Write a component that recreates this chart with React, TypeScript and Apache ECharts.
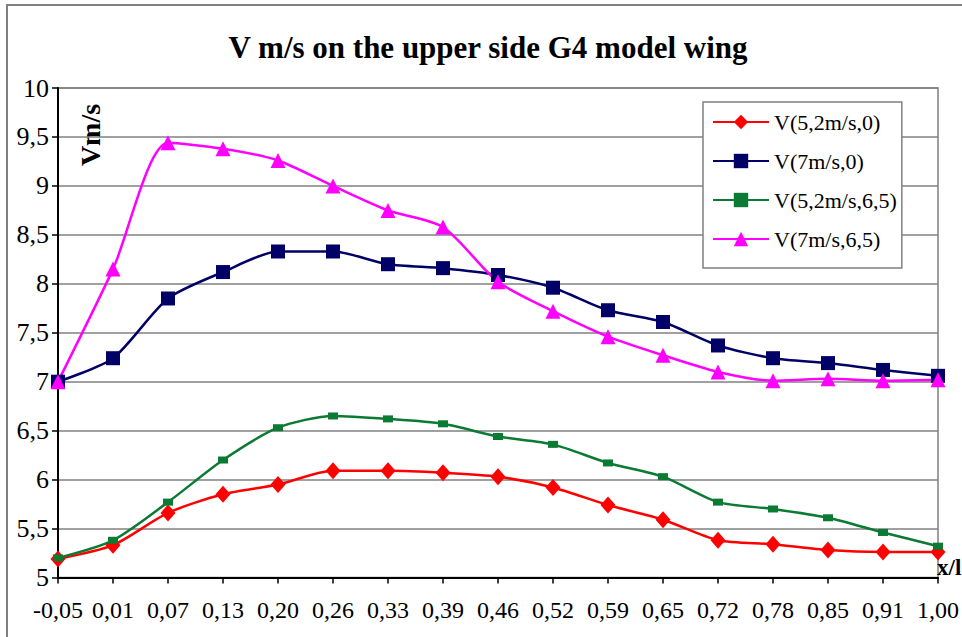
import React, { useEffect, useRef } from "react";
import * as echarts from "echarts";

const categories = ["-0,05", "0,01", "0,07", "0,13", "0,20", "0,26", "0,33", "0,39", "0,46", "0,52", "0,59", "0,65", "0,72", "0,78", "0,85", "0,91", "1,00"];
const v52_0 = [5.19, 5.33, 5.66, 5.85, 5.95, 6.09, 6.09, 6.07, 6.03, 5.92, 5.74, 5.59, 5.38, 5.34, 5.28, 5.26, 5.26];
const v7_0 = [7.0, 7.24, 7.85, 8.12, 8.33, 8.33, 8.2, 8.16, 8.09, 7.96, 7.73, 7.61, 7.37, 7.24, 7.19, 7.12, 7.06];
const v52_65 = [5.2, 5.38, 5.77, 6.2, 6.53, 6.65, 6.62, 6.57, 6.44, 6.36, 6.17, 6.03, 5.77, 5.7, 5.61, 5.46, 5.32];
const v7_65 = [7.0, 8.15, 9.44, 9.38, 9.26, 9.0, 8.75, 8.58, 8.02, 7.72, 7.46, 7.27, 7.1, 7.01, 7.03, 7.01, 7.02];
const seriesNames = ["V(5,2m/s,0)", "V(7m/s,0)", "V(5,2m/s,6,5)", "V(7m/s,6,5)"];
const titleText = "V m/s on the upper side G4 model wing";
const yAxisTitle = "Vm/s";
const xAxisTitle = "x/l";

const FONT = "Liberation Serif";

export default function App() {
  const ref = useRef<HTMLDivElement>(null);
  useEffect(() => {
    if (!ref.current) return;
    const chart = echarts.init(ref.current, null, { renderer: "svg" });
    const mk = (name: string, data: number[], color: string, symbol: string, size: any) => ({
      name,
      type: "line",
      data,
      smooth: 0.25,
      symbol,
      symbolSize: size,
      showSymbol: true,
      lineStyle: { color, width: 2.5 },
      itemStyle: { color },
      emphasis: { disabled: true },
    });
    chart.setOption({
      animation: false,
      backgroundColor: "#ffffff",
      textStyle: { fontFamily: FONT },
      grid: {
        left: 58,
        right: 19,
        top: 88,
        bottom: 59.5,
        show: true,
        borderColor: "#808080",
        borderWidth: 1.5,
        backgroundColor: "transparent",
      },
      legend: {
        orient: "vertical",
        left: 703,
        top: 102,
        backgroundColor: "#ffffff",
        borderColor: "#808080",
        borderWidth: 1.5,
        padding: [9, 5, 18, 9],
        itemWidth: 56,
        itemHeight: 18,
        itemGap: 17,
        textStyle: { fontFamily: FONT, fontSize: 22, color: "#000" },
        data: seriesNames,
      },
      xAxis: {
        type: "category",
        data: categories,
        boundaryGap: false,
        axisLine: { lineStyle: { color: "#000", width: 2 } },
        axisTick: { show: true, length: 6, inside: false, interval: 0, lineStyle: { color: "#000", width: 1.5 } },
        axisLabel: { interval: 0, fontFamily: FONT, fontSize: 24, color: "#000", margin: 20 },
        splitLine: { show: false },
      },
      yAxis: {
        type: "value",
        min: 5,
        max: 10,
        interval: 0.5,
        axisLine: { show: true, lineStyle: { color: "#000", width: 2 } },
        axisTick: { show: true, length: 6, lineStyle: { color: "#000", width: 1.5 } },
        axisLabel: {
          fontFamily: FONT,
          fontSize: 26,
          color: "#000",
          margin: 9,
          formatter: (v: number) => String(v).replace(".", ","),
        },
        splitLine: { show: true, lineStyle: { color: "#808080", width: 1.5 } },
      },
      graphic: [
        {
          type: "rect",
          silent: true,
          z: -10,
          shape: { x: 7, y: 5, width: 1000, height: 700 },
          style: { fill: "none", stroke: "#808080", lineWidth: 2 },
        },
        {
          type: "text",
          x: 488,
          y: 47,
          style: {
            text: titleText,
            fontFamily: FONT,
            fontSize: 31,
            fontWeight: "bold",
            fill: "#000",
            align: "center",
            verticalAlign: "middle",
          },
        },
        {
          type: "text",
          x: 90,
          y: 135,
          rotation: Math.PI / 2,
          style: {
            text: yAxisTitle,
            fontFamily: FONT,
            fontSize: 28,
            fontWeight: "bold",
            fill: "#000",
            align: "center",
            verticalAlign: "middle",
          },
        },
        {
          type: "text",
          x: 937,
          y: 567,
          z: 100,
          style: {
            text: xAxisTitle,
            fontFamily: FONT,
            fontSize: 23,
            fontWeight: "bold",
            fill: "#000",
            align: "left",
            verticalAlign: "middle",
          },
        },
      ],
      series: [
        mk(seriesNames[0], v52_0, "#ff0000", "diamond", [15, 17]),
        mk(seriesNames[1], v7_0, "#000066", "rect", 14),
        mk(seriesNames[2], v52_65, "#0b7a32", "rect", [10, 7]),
        mk(seriesNames[3], v7_65, "#ff00ff", "triangle", 15),
      ],
    });
    return () => chart.dispose();
  }, []);
  return <div ref={ref} style={{ position: "absolute", left: 0, top: 0, width: 962, height: 637 }} />;
}
